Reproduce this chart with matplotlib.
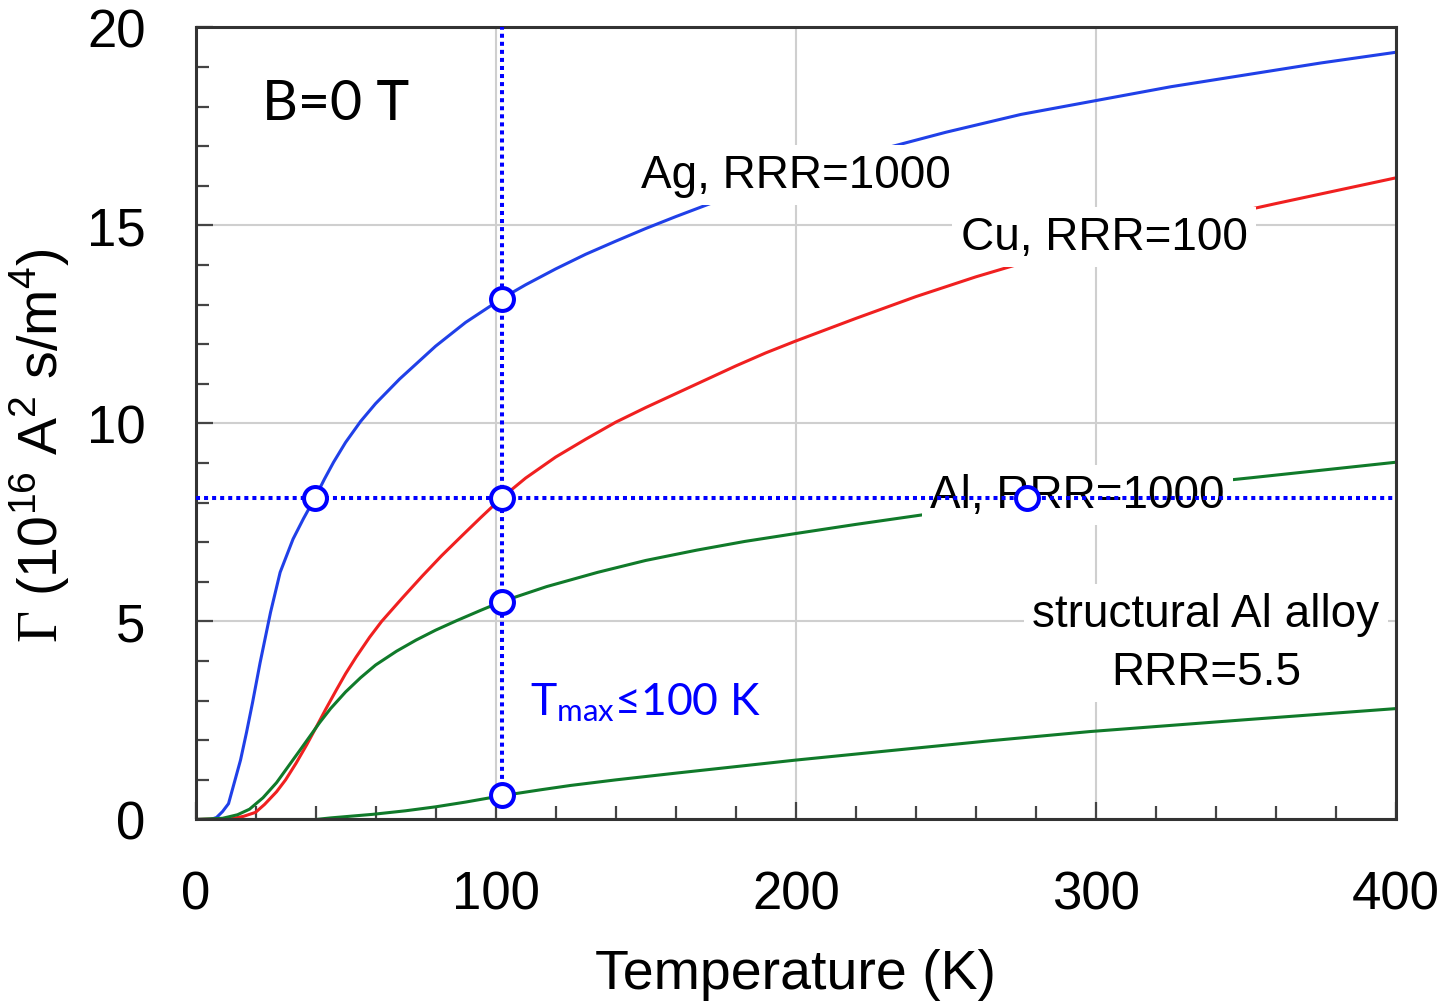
import numpy as np
import matplotlib
matplotlib.use('Agg')
import matplotlib.pyplot as plt

plt.rcParams['font.family'] = ['Liberation Sans', 'DejaVu Sans']
plt.rcParams['mathtext.fontset'] = 'custom'
plt.rcParams['mathtext.rm'] = 'Liberation Sans'
plt.rcParams['mathtext.cal'] = 'Liberation Serif'
plt.rcParams['mathtext.sf'] = 'Lato'

# Gamma(T) curves, B = 0 T
ag_T = [0, 5, 7, 9, 11, 13, 15, 17, 19, 21.5, 25, 28.2, 32.5, 36, 40, 43, 46, 50, 55,
        60, 68, 80, 90, 102, 110, 120, 130, 140, 150, 160, 175, 200, 225, 250, 275,
        300, 325, 350, 375, 400]
ag_G = [0, 0, 0.05, 0.2, 0.4, 0.95, 1.5, 2.2, 2.95, 3.95, 5.23, 6.24, 7.08, 7.6, 8.15,
        8.6, 9.02, 9.52, 10.05, 10.5, 11.12, 11.95, 12.55, 13.15, 13.5, 13.9, 14.27,
        14.6, 14.92, 15.22, 15.65, 16.3, 16.85, 17.35, 17.8, 18.15, 18.5, 18.8, 19.1,
        19.37]

cu_T = [0, 12, 16, 20, 23, 27, 30, 33.5, 37, 40, 43.5, 47, 50, 53.5, 58, 62, 69, 75.6,
        82, 89, 95, 102, 110, 120, 130, 140, 150, 160, 170, 180, 190, 200, 220, 240,
        260, 280, 300, 330, 360, 400]
cu_G = [0, 0.02, 0.08, 0.18, 0.38, 0.7, 1.0, 1.42, 1.88, 2.3, 2.8, 3.28, 3.68, 4.1,
        4.6, 5.0, 5.6, 6.15, 6.66, 7.18, 7.62, 8.12, 8.62, 9.15, 9.6, 10.03, 10.4,
        10.75, 11.1, 11.45, 11.78, 12.08, 12.65, 13.2, 13.7, 14.15, 14.52, 15.05,
        15.55, 16.2]

al_T = [0, 9, 14, 18, 22.5, 27, 31, 35, 41.4, 45, 50, 55, 60, 67, 73.5, 80, 87, 95,
        102, 117, 134, 150, 167, 183, 200, 220, 243, 277, 310, 352, 400]
al_G = [0, 0.03, 0.12, 0.26, 0.55, 0.93, 1.35, 1.77, 2.45, 2.8, 3.22, 3.58, 3.9, 4.25,
        4.53, 4.78, 5.02, 5.28, 5.5, 5.88, 6.24, 6.54, 6.8, 7.02, 7.22, 7.45, 7.7,
        8.02, 8.3, 8.63, 9.02]

alloy_T = [0, 40, 45, 59, 70, 80, 90, 102, 115, 125, 140, 160, 200, 233, 265, 298,
           350, 400]
alloy_G = [0, 0, 0.04, 0.13, 0.22, 0.32, 0.44, 0.6, 0.75, 0.86, 1.0, 1.17, 1.5,
           1.75, 1.99, 2.22, 2.52, 2.8]

# operating point markers
t_max = 102
g_req = 8.12
mark_T = [39.8, t_max, t_max, t_max, t_max, 277]
mark_G = [g_req, 13.15, g_req, 5.5, 0.62, g_req]

fig = plt.figure(figsize=(14.47, 10.04), dpi=100)
ax = fig.add_axes([0.13511, 0.18277, 0.82965, 0.78904])

lw = 2.2
ax.plot(ag_T, ag_G, color='#2040e8', lw=lw, zorder=2)
ax.plot(cu_T, cu_G, color='#f02020', lw=lw, zorder=2)
ax.plot(al_T, al_G, color='#107a2a', lw=lw, zorder=2)
ax.plot(alloy_T, alloy_G, color='#107a2a', lw=lw, zorder=2)

box = dict(facecolor='white', edgecolor='none', pad=6)
lab_fs = 33
ax.text(148.4, 15.97, 'Ag, RRR=1000', fontsize=lab_fs, ha='left', va='baseline', bbox=box, zorder=3)
ax.text(254.9, 14.4, 'Cu, RRR=100', fontsize=lab_fs, ha='left', va='baseline', bbox=box, zorder=3)
ax.text(244.7, 7.89, 'Al, RRR=1000', fontsize=lab_fs, ha='left', va='baseline', bbox=box, zorder=3)
# multi-line text: baseline alignment refers to the last line here
ax.text(336.7, 3.42, 'structural Al alloy\nRRR=5.5', fontsize=lab_fs, ha='center', va='baseline',
        multialignment='center', linespacing=1.4, bbox=box, zorder=3, clip_on=True)

# T_max and required Gamma guide lines
dot = (0, (1, 1))
ax.plot([0, 400], [g_req, g_req], color='#0000ff', lw=2.9, linestyle=dot, zorder=4)
ax.plot([t_max, t_max], [mark_G[4], 20], color='#0000ff', lw=2.9, linestyle=dot, zorder=4)
ax.plot(mark_T, mark_G, linestyle='none', marker='o', ms=16.5, mew=2.9,
        mec='#0000ff', mfc='white', zorder=5)

ax.text(0.0554, 0.884, 'B=0 T', transform=ax.transAxes, fontsize=40, family='Lato',
        ha='left', va='baseline')
ax.text(111.5, 2.66, r'$\mathsf{T_{max}}$≤100 K', fontsize=32,
        family='Lato', color='#0000ff', ha='left', va='baseline')

ax.set_xlim(0, 400)
ax.set_ylim(0, 20)
ax.set_xticks([0, 100, 200, 300, 400])
ax.set_yticks([0, 5, 10, 15, 20])
ax.set_xticks(np.arange(0, 401, 20), minor=True)
ax.set_yticks(np.arange(0, 21, 1), minor=True)
ax.tick_params(which='both', direction='in', top=False, right=False, color='#444444',
               labelsize=38, pad=36)
ax.tick_params(which='major', length=12, width=1.6)
ax.tick_params(which='minor', length=9.5, width=1.6)
ax.grid(True, which='major', color='#cfcfcf', lw=1.5)
ax.set_axisbelow(True)
for s in ax.spines.values():
    s.set_linewidth(2.2)
    s.set_color('#333333')

ax.set_xlabel('Temperature (K)', fontsize=40)
ax.xaxis.set_label_coords(0.5, -0.162)
ax.set_ylabel(r'$\mathcal{\Gamma}$ (10$^{16}$ A$^{2}$ s/m$^{4}$)', fontsize=40)
ax.yaxis.set_label_coords(-0.103, 0.473)

fig.savefig('out.png', dpi=100)
